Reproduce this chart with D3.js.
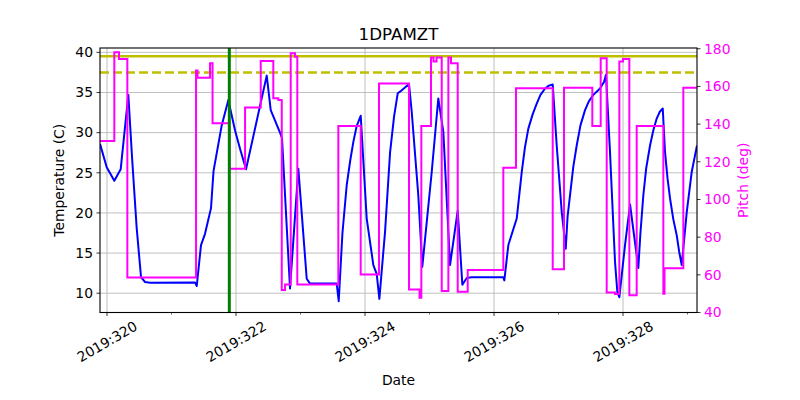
<!DOCTYPE html>
<html><head><meta charset="utf-8">
<script src="https://cdn.jsdelivr.net/npm/d3@7"></script>
<style>body{margin:0;background:#fff}svg{font-family:"DejaVu Sans",sans-serif}</style>
</head><body>
<svg id="c" width="800" height="400"></svg>
<script>
// Temperature series (day-of-year 2019, deg C)
const tempDays = [319.891,319.995,320.113,320.212,320.330,320.392,320.460,320.527,320.589,320.667,321.364,321.391,321.457,321.519,321.612,321.651,321.778,321.881,321.984,322.062,322.155,322.476,322.538,322.682,322.713,322.837,322.966,323.096,323.147,323.561,323.592,323.650,323.716,323.770,323.819,323.870,323.933,324.026,324.129,324.181,324.222,324.310,324.388,324.450,324.507,324.543,324.682,324.724,324.826,324.888,325.034,325.136,325.214,325.318,325.437,325.509,325.577,325.654,326.144,326.160,326.222,326.352,326.430,326.480,326.532,326.600,326.662,326.720,326.791,326.850,326.910,326.972,327.050,327.112,327.140,327.178,327.230,327.282,327.340,327.411,327.470,327.540,327.643,327.705,327.736,327.798,327.876,327.912,327.943,328.031,328.109,328.237,328.270,328.315,328.360,328.419,328.470,328.522,328.570,328.616,328.651,328.690,328.729,328.780,328.833,328.870,328.910,328.988,329.065,329.147];
const tempValues = [28.6,25.7,24.0,25.45,34.7,26.4,18.1,12.0,11.4,11.3,11.35,10.9,16.0,17.4,20.6,25.2,30.9,34.05,30.3,28.0,25.45,37.1,32.8,30.0,29.3,10.6,25.5,11.8,11.2,11.2,9.0,17.5,23.45,26.5,28.85,30.8,32.1,19.3,13.5,12.4,9.3,17.6,27.5,32.0,34.9,35.1,36.05,32.6,22.2,13.3,25.1,34.25,30.1,13.5,20.3,11.05,11.9,12.0,12.0,11.6,16.0,19.3,25.1,28.2,30.5,32.3,33.6,34.7,35.5,35.85,36.0,28.4,20.1,15.55,19.5,22.2,25.8,28.4,30.9,32.8,33.9,34.7,35.5,36.3,37.2,27.6,13.9,10.15,9.5,16.0,21.05,13.15,17.5,22.2,25.6,28.4,30.3,31.75,32.6,33.0,27.6,24.3,21.8,19.2,17.2,15.2,13.5,20.1,25.1,28.4];
// Pitch series (step-after, deg)
const pitchDays = [319.891,320.113,320.186,320.315,321.380,321.403,321.597,321.636,321.896,322.140,322.383,322.578,322.656,322.709,322.760,322.848,322.915,322.950,323.586,323.933,324.217,324.682,324.845,324.873,325.023,325.062,325.109,325.189,325.292,325.333,325.437,325.592,326.144,326.341,326.910,327.085,327.524,327.654,327.747,327.876,327.943,328.000,328.098,328.212,328.625,328.643,328.935,329.147];
const pitchValues = [131,178.1,174.6,58.6,168.4,164.6,172.3,140.4,116.3,148.8,173.5,153.7,152.8,51.9,54.9,177.6,175.8,54.9,139,60.2,161.5,52.2,47.8,139,175.3,173.3,175.3,51.4,175.3,172.3,51,62.5,116.9,159,63,159.3,139,175,50.6,49.8,173.2,174.6,49.2,139,50,63.5,159.3,159.3];
// Limits and marker
const limitSolid = 39.5, limitDashed = 37.5;
const markerDay = 321.896;
const xTicks = [320,322,324,326,328];
const xMinor = [321,323,325,327,329];
const tempTicks = [10,15,20,25,30,35,40];
const pitchTicks = [40,60,80,100,120,140,160,180];

const L=100,R=697,T=48,B=312.5;
const svg=d3.select("#c");
const x=d3.scaleLinear().domain([319.891,329.147]).range([L,R]);
const yT=d3.scaleLinear().domain([7.6,40.54]).range([B,T]);
const yP=d3.scaleLinear().domain([40,180.4]).range([B,T]);

svg.append("defs").append("clipPath").attr("id","clip").append("rect").attr("x",L).attr("y",T).attr("width",R-L).attr("height",B-T);

// grid
const g=svg.append("g");
g.selectAll(".vg").data(xTicks).join("line").attr("x1",d=>x(d)).attr("x2",d=>x(d)).attr("y1",T).attr("y2",B).attr("stroke","#b0b0b0").attr("stroke-width",0.8);
g.selectAll(".hg").data(tempTicks).join("line").attr("x1",L).attr("x2",R).attr("y1",d=>yT(d)).attr("y2",d=>yT(d)).attr("stroke","#b0b0b0").attr("stroke-width",0.8);

const plot=svg.append("g").attr("clip-path","url(#clip)");
plot.append("path").datum(tempDays.map((d,i)=>[d,tempValues[i]]))
 .attr("d",d3.line().x(d=>x(d[0])).y(d=>yT(d[1])))
 .attr("fill","none").attr("stroke","#0000ff").attr("stroke-width",2).attr("stroke-linejoin","round");
plot.append("line").attr("x1",L).attr("x2",R).attr("y1",yT(limitSolid)).attr("y2",yT(limitSolid)).attr("stroke","#bfbf00").attr("stroke-width",2.5);
plot.append("line").attr("x1",L).attr("x2",R).attr("y1",yT(limitDashed)).attr("y2",yT(limitDashed)).attr("stroke","#bfbf00").attr("stroke-width",2.5).attr("stroke-dasharray","9,4");
plot.append("path").datum(pitchDays.map((d,i)=>[d,pitchValues[i]]))
 .attr("d",d3.line().curve(d3.curveStepAfter).x(d=>x(d[0])).y(d=>yP(d[1])))
 .attr("fill","none").attr("stroke","#ff00ff").attr("stroke-width",2);
plot.append("line").attr("x1",x(markerDay)).attr("x2",x(markerDay)).attr("y1",T).attr("y2",B).attr("stroke","#008000").attr("stroke-width",3);

// frame
svg.append("rect").attr("x",L).attr("y",T).attr("width",R-L).attr("height",B-T).attr("fill","none").attr("stroke","#000").attr("stroke-width",1.1);

// x axis
const xa=svg.append("g");
xa.selectAll(".t").data(xTicks).join("line").attr("x1",d=>x(d)).attr("x2",d=>x(d)).attr("y1",B).attr("y2",B+3.5).attr("stroke","#000").attr("stroke-width",0.8);
xa.selectAll(".m").data(xMinor).join("line").attr("x1",d=>x(d)).attr("x2",d=>x(d)).attr("y1",B).attr("y2",B+2).attr("stroke","#000").attr("stroke-width",0.6);
xa.selectAll(".l").data(xTicks).join("text").attr("transform",d=>`translate(${x(d)},${B+29})rotate(-30)`)
 .attr("text-anchor","middle").attr("dominant-baseline","central").attr("font-size","13.9px").text(d=>"2019:"+d);
svg.append("text").attr("x",(L+R)/2).attr("y",385).attr("text-anchor","middle").attr("font-size","13.9px").text("Date");

// left axis
const la=svg.append("g");
la.selectAll("line").data(tempTicks).join("line").attr("x1",L-3.5).attr("x2",L).attr("y1",d=>yT(d)).attr("y2",d=>yT(d)).attr("stroke","#000").attr("stroke-width",0.8);
la.selectAll("text").data(tempTicks).join("text").attr("x",L-7).attr("y",d=>yT(d)).attr("dy","0.35em").attr("text-anchor","end").attr("font-size","13.9px").text(d=>d);
svg.append("text").attr("transform",`translate(64,${(T+B)/2})rotate(-90)`).attr("text-anchor","middle").attr("font-size","13.9px").text("Temperature (C)");

// right axis
const ra=svg.append("g");
ra.selectAll("line").data(pitchTicks).join("line").attr("x1",R).attr("x2",R+3.5).attr("y1",d=>yP(d)).attr("y2",d=>yP(d)).attr("stroke","#000").attr("stroke-width",0.8);
ra.selectAll("text").data(pitchTicks).join("text").attr("x",R+7).attr("y",d=>yP(d)).attr("dy","0.35em").attr("text-anchor","start").attr("font-size","13.9px").attr("fill","#ff00ff").text(d=>d);
svg.append("text").attr("transform",`translate(748,${(T+B)/2})rotate(-90)`).attr("text-anchor","middle").attr("font-size","13.9px").attr("fill","#ff00ff").text("Pitch (deg)");

svg.append("text").attr("x",(L+R)/2).attr("y",40).attr("text-anchor","middle").attr("font-size","16.7px").text("1DPAMZT");
</script>
</body></html>
